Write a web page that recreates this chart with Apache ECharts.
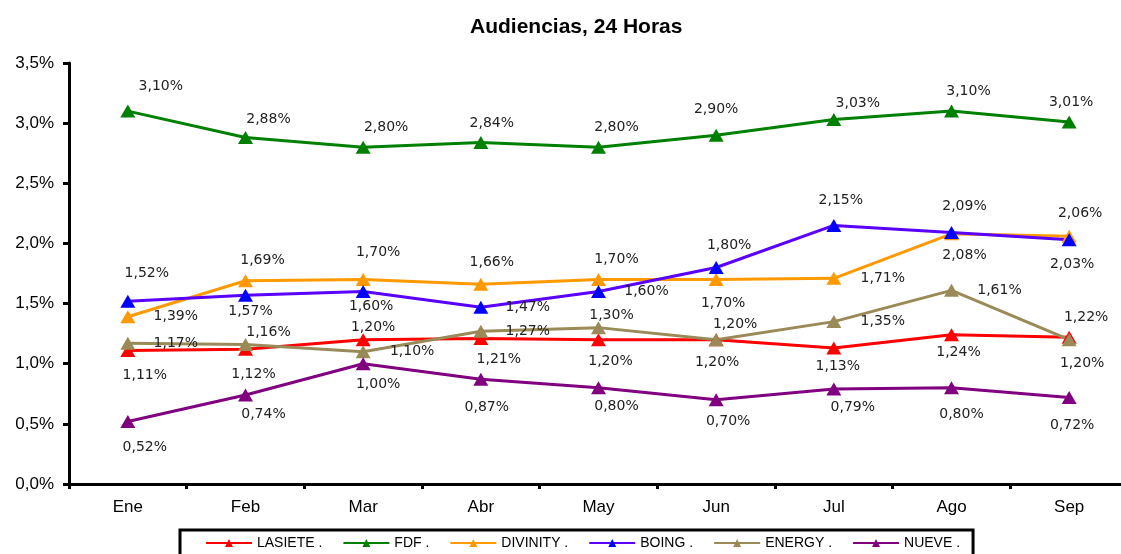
<!DOCTYPE html>
<html>
<head>
<meta charset="utf-8">
<script src="https://cdn.jsdelivr.net/npm/echarts@6/dist/echarts.min.js"></script>
<style>
html,body{margin:0;padding:0;background:#fff;}
#chart{width:1121px;height:554px;}
</style>
</head>
<body>
<div id="chart"></div>
<script>
// ---- data ----
const months = ['Ene','Feb','Mar','Abr','May','Jun','Jul','Ago','Sep'];
const seriesNames = ['LASIETE .','FDF .','DIVINITY .','BOING .','ENERGY .','NUEVE .'];
const lasiete  = [1.11, 1.12, 1.20, 1.21, 1.20, 1.20, 1.13, 1.24, 1.22];
const fdf      = [3.10, 2.88, 2.80, 2.84, 2.80, 2.90, 3.03, 3.10, 3.01];
const divinity = [1.39, 1.69, 1.70, 1.66, 1.70, 1.70, 1.71, 2.08, 2.06];
const boing    = [1.52, 1.57, 1.60, 1.47, 1.60, 1.80, 2.15, 2.09, 2.03];
const energy   = [1.17, 1.16, 1.10, 1.27, 1.30, 1.20, 1.35, 1.61, 1.20];
const nueve    = [0.52, 0.74, 1.00, 0.87, 0.80, 0.70, 0.79, 0.80, 0.72];
const yTicks   = [0, 0.5, 1.0, 1.5, 2.0, 2.5, 3.0, 3.5];

// ---- styling / layout (kept separate from data) ----
const lineColors   = ['#ff0000','#008000','#ff9900','#5a00ff','#9a8a58','#800080'];
const markerColors = ['#ff0000','#008000','#ff9900','#0000ff','#9a8a58','#800080'];
const labelOffsets = [
  [[17,25],[8,25],[10,-12],[18,21],[12,22],[1,23],[4,18],[7,18],[17,-20]],
  [[33,-25],[23,-18],[23,-20],[11,-19],[18,-20],[0,-26],[24,-16],[17,-20],[2,-20]],
  [[48,0],[17,-20],[15,-27],[11,-22],[18,-20],[7,24],[49,0],[13,22],[11,-23]],
  [[19,-28],[5,16],[8,15],[47,0],[48,0],[13,-22],[7,-25],[13,-26],[3,25]],
  [[48,0],[23,-12],[49,0],[47,0],[13,-12],[19,-15],[49,0],[48,0],[13,24]],
  [[17,26],[18,19],[15,21],[6,28],[18,19],[12,22],[19,18],[10,27],[3,28]]
];

const allValues = [lasiete, fdf, divinity, boing, energy, nueve];
const pct2 = v => v.toFixed(2).replace('.', ',') + '%';
const pct1 = v => v.toFixed(1).replace('.', ',') + '%';

const series = seriesNames.map((name, s) => ({
  name: name,
  type: 'line',
  data: allValues[s].map((v, i) => ({
    value: v,
    label: { offset: labelOffsets[s][i] }
  })),
  symbol: 'triangle',
  symbolSize: [15, 13],
  lineStyle: { color: lineColors[s], width: 3 },
  itemStyle: { color: markerColors[s], borderWidth: 0 },
  label: {
    show: true,
    position: 'inside',
    formatter: p => pct2(p.value),
    fontFamily: 'DejaVu Sans',
    fontSize: 14,
    color: '#222',
    align: 'center',
    verticalAlign: 'middle'
  },
  emphasis: { disabled: true },
  animation: false
}));

const chart = echarts.init(document.getElementById('chart'), null, { renderer: 'canvas' });
chart.setOption({
  backgroundColor: '#fff',
  animation: false,
  title: {
    text: 'Audiencias, 24 Horas',
    left: 465,
    top: 12,
    textStyle: { fontFamily: 'Liberation Sans, Arial', fontWeight: 'bold', fontSize: 21, color: '#000' }
  },
  legend: {
    data: seriesNames,
    left: 180,
    top: 530,
    orient: 'horizontal',
    padding: [6, 13, 24, 25],
    itemWidth: 46,
    itemHeight: 10,
    itemGap: 20,
    borderColor: '#000',
    borderWidth: 3,
    textStyle: { fontFamily: 'Liberation Sans, Arial', fontSize: 14, color: '#000' }
  },
  grid: { left: 69, width: 1059, top: 63, height: 421, containLabel: false, outerBoundsMode: 'none' },
  xAxis: {
    type: 'category',
    data: months,
    boundaryGap: true,
    axisLine: { lineStyle: { color: '#000', width: 3 } },
    axisTick: { show: true, length: 5, lineStyle: { color: '#000', width: 3 } },
    axisLabel: { fontFamily: 'Liberation Sans, Arial', fontSize: 17, color: '#000', margin: 15 },
    splitLine: { show: false }
  },
  yAxis: {
    type: 'value',
    min: yTicks[0],
    max: yTicks[yTicks.length - 1],
    interval: yTicks[1] - yTicks[0],
    axisLine: { show: true, lineStyle: { color: '#000', width: 3 } },
    axisTick: { show: true, length: 6, lineStyle: { color: '#000', width: 3 } },
    axisLabel: { fontFamily: 'Liberation Sans, Arial', fontSize: 17, color: '#000', margin: 15, formatter: v => pct1(v) },
    splitLine: { show: false }
  },
  series: series
});
</script>
</body>
</html>
